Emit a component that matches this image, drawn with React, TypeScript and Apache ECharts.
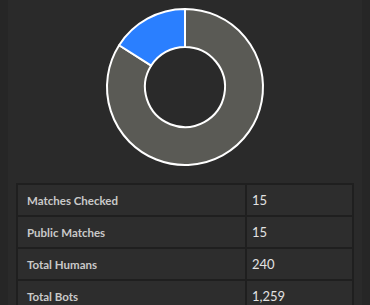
import React, { useEffect, useRef } from "react";
import * as echarts from "echarts";

const sliceNames = ["Total Bots", "Total Humans"];
const sliceValues = [1259, 240];
const sliceColors = ["#5a5a55", "#2a7fff"];

const rowLabels = ["Matches Checked", "Public Matches", "Total Humans", "Total Bots"];
const rowValues = ["15", "15", "240", "1,259"];

export default function App() {
  const ref = useRef<HTMLDivElement>(null);
  useEffect(() => {
    document.body.style.margin = "0";
    document.body.style.background = "#262626";
    const chart = echarts.init(ref.current!, null, { renderer: "svg" });
    chart.setOption({
      animation: false,
      backgroundColor: "transparent",
      series: [
        {
          type: "pie",
          center: [177, 87],
          radius: [40, 78],
          startAngle: 90,
          clockwise: true,
          label: { show: false },
          labelLine: { show: false },
          itemStyle: { borderColor: "#ffffff", borderWidth: 2 },
          emphasis: { disabled: true },
          data: sliceNames.map((n, i) => ({
            name: n,
            value: sliceValues[i],
            itemStyle: { color: sliceColors[i] },
          })),
        },
      ],
    });
    return () => chart.dispose();
  }, []);

  const cellBase: React.CSSProperties = {
    border: "2px solid #1f1f1f",
    background: "#2d2d2d",
    height: 30,
    padding: "0 0 0 9px",
    fontFamily: "Lato, 'Open Sans', sans-serif",
    verticalAlign: "middle",
    boxSizing: "border-box",
  };

  return (
    <div style={{ width: 370, height: 305, background: "#262626", position: "relative", overflow: "hidden" }}>
      <div style={{ position: "absolute", left: 8, top: 0, width: 354, height: 305, background: "#2a2a2a" }}>
        <div ref={ref} style={{ position: "absolute", left: 0, top: 0, width: 354, height: 176 }} />
        <table
          style={{
            position: "absolute",
            left: 8,
            top: 183,
            width: 338,
            borderCollapse: "collapse",
          }}
        >
          <tbody>
            {rowLabels.map((l, i) => (
              <tr key={l} style={{ height: 32 }}>
                <td style={{ ...cellBase, width: 229, color: "#c9c9c9", fontWeight: 700, fontSize: 11.5 }}>{l}</td>
                <td style={{ ...cellBase, color: "#e2e2e2", fontSize: 13, paddingLeft: 5 }}>{rowValues[i]}</td>
              </tr>
            ))}
          </tbody>
        </table>
      </div>
    </div>
  );
}
